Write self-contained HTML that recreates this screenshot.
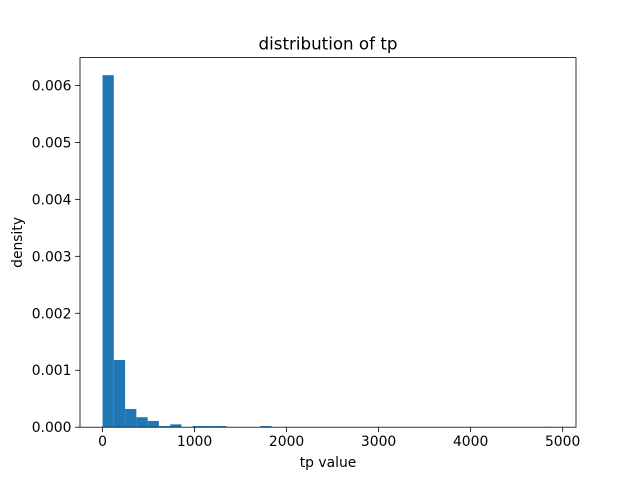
<!DOCTYPE html>
<html><head><meta charset="utf-8"><style>body{margin:0;background:#fff}svg{display:block}text{font-family:"DejaVu Sans","Liberation Sans",sans-serif;fill:#000}</style></head>
<body>
<svg id="c" width="640" height="480"></svg>
<script>
const binWidth = [122.5];
const densities = [0.00618,0.00118,0.00032,0.000175,0.00011,0.00002,0.00005,0,0.00002,0.00002,0.00002,0,0,0,0.00002,0,0,0,0,0,0,0,0,0,0,0,0,0,0,0,0,0,0,0,0,0,0,0,0,0.000005];
const xTicks = [0,1000,2000,3000,4000,5000];
const yTicks = [0,0.001,0.002,0.003,0.004,0.005,0.006];
const yTickLabels = ["0.000","0.001","0.002","0.003","0.004","0.005","0.006"];
const NS="http://www.w3.org/2000/svg";
const svg=document.getElementById('c');
const L=80,R=576,T=57.6,B=427.2;
const xmax=binWidth[0]*densities.length, xmin=0;
const xlo=xmin-0.05*(xmax-xmin), xhi=xmax+0.05*(xmax-xmin);
const ymaxV=Math.max(...densities)*1.05;
const X=v=>L+(v-xlo)/(xhi-xlo)*(R-L);
const Y=v=>B-v/ymaxV*(B-T);
function mk(tag,attrs,parent){const e=document.createElementNS(NS,tag);for(const k in attrs)e.setAttribute(k,attrs[k]);(parent||svg).appendChild(e);return e;}
densities.forEach((d,i)=>{
  if(d<=0)return;
  const r=mk('rect',{x:X(i*binWidth[0]),y:Y(d),width:X((i+1)*binWidth[0])-X(i*binWidth[0]),height:B-Y(d),fill:'#1f77b4'});
  
  
});
const frame=mk('rect',{x:L,y:T,width:R-L,height:B-T,fill:'none',stroke:'#000','stroke-width':0.8});


xTicks.forEach(v=>{
  mk('line',{x1:X(v),x2:X(v),y1:B,y2:B+4.9,stroke:'#000','stroke-width':0.8});
  const t=mk('text',{x:X(v),y:B+19,'text-anchor':'middle','font-size':13.9});
  t.textContent=v;
  
  
});
yTicks.forEach((v,i)=>{
  mk('line',{x1:L-4.9,x2:L,y1:Y(v),y2:Y(v),stroke:'#000','stroke-width':0.8});
  const t=mk('text',{x:L-8.5,y:Y(v)+5,'text-anchor':'end','font-size':13.9});
  t.textContent=yTickLabels[i];
  
  
});
const title=mk('text',{x:(L+R)/2,y:T-8,'text-anchor':'middle','font-size':16.7});
title.textContent='distribution of tp';


const xl=mk('text',{x:(L+R)/2,y:B+40,'text-anchor':'middle','font-size':13.9});
xl.textContent='tp value';


const yl=mk('text',{x:0,y:0,'text-anchor':'middle','font-size':13.9,transform:`translate(22,${(T+B)/2}) rotate(-90)`});
yl.textContent='density';


</script>
</body></html>
